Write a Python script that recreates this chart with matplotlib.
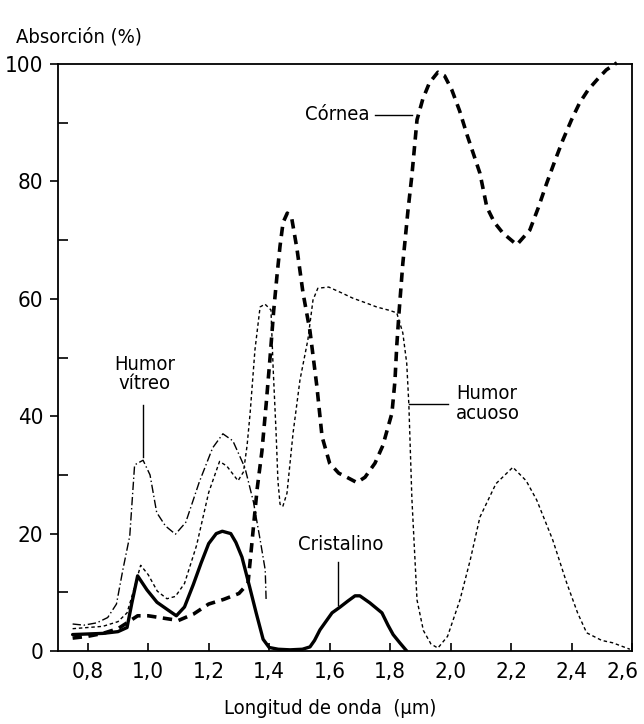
import matplotlib
matplotlib.use("Agg")
import matplotlib.pyplot as plt
from matplotlib import font_manager
from matplotlib.ticker import MultipleLocator
from matplotlib.transforms import ScaledTranslation

# busca una fuente estrecha (la original es tipo Futura condensada)
def es_estrecha(f):
    if "Narrow" in f.name or "Condensed" in f.name:
        return True
    st = f.stretch
    if isinstance(st, str):
        return "condensed" in st
    return st < 500

estrechas = [f for f in font_manager.fontManager.ttflist
             if es_estrecha(f) and f.weight in ("normal", "regular", 400) and f.style == "normal"]
if estrechas:
    fp = font_manager.FontProperties(fname=estrechas[0].fname)
    t_ticks, t_text = 16, 14.5
else:
    fp = font_manager.FontProperties(family="DejaVu Sans")
    t_ticks, t_text = 13.5, 12.5

# datos
cornea_x = [0.75, 0.80, 0.85, 0.90, 0.93, 0.965, 1.00, 1.05, 1.10, 1.15, 1.20, 1.25, 1.30,
            1.33, 1.345, 1.36, 1.376, 1.39, 1.403, 1.415, 1.426, 1.436, 1.446, 1.46, 1.475,
            1.492, 1.512, 1.535, 1.558, 1.575, 1.60, 1.63, 1.657, 1.69, 1.717, 1.75, 1.776,
            1.795, 1.806, 1.816, 1.822, 1.83, 1.842, 1.859, 1.872, 1.889, 1.908, 1.93, 1.958,
            1.98, 2.004, 2.03, 2.054, 2.097, 2.12, 2.145, 2.173, 2.219, 2.262, 2.29, 2.318,
            2.345, 2.371, 2.40, 2.427, 2.455, 2.484, 2.515, 2.55]
cornea_y = [2.2, 2.5, 3.0, 3.8, 4.8, 6.0, 6.0, 5.6, 5.2, 6.3, 8.0, 8.8, 9.8,
            11.5, 19.5, 27.5, 34, 42, 50, 58, 64, 69, 73, 74.6, 73.6,
            68.5, 61, 54.5, 45, 36.5, 32, 30.3, 29.6, 28.7, 29.6, 32, 35,
            38.5, 40.5, 46, 52, 58, 66, 75, 81, 90.5, 94, 96.8, 98.6,
            98, 95.6, 92, 88, 81.4, 75.6, 73, 71.2, 69.2, 71.7, 75.5, 79.7,
            83.5, 87, 90.5, 93.4, 95.6, 97.3, 99, 100.2]

acuoso_x = [0.75, 0.80, 0.85, 0.90, 0.93, 0.95, 0.975, 1.0, 1.03, 1.062, 1.09, 1.12, 1.16,
            1.20, 1.236, 1.26, 1.297, 1.315, 1.327, 1.337, 1.353, 1.37, 1.386, 1.406, 1.413,
            1.423, 1.429, 1.436, 1.445, 1.459, 1.479, 1.502, 1.528, 1.545, 1.561, 1.597, 1.64,
            1.677, 1.72, 1.756, 1.80, 1.822, 1.842, 1.855, 1.862, 1.872, 1.889, 1.91, 1.935,
            1.958, 1.99, 2.031, 2.065, 2.097, 2.15, 2.206, 2.25, 2.285, 2.338, 2.384, 2.42,
            2.45, 2.50, 2.536, 2.593]
acuoso_y = [3.8, 4.0, 4.2, 5.0, 6.5, 10, 14.6, 13, 10.2, 8.9, 9.3, 11.5, 18,
            27, 32.3, 31.5, 29, 30.5, 35, 40.5, 51.3, 58.6, 59.1, 58.1, 48.4,
            37.1, 29, 25, 24.6, 26.9, 37.1, 46.2, 53, 59.8, 61.8, 62, 61,
            60.1, 59.3, 58.6, 58, 57.6, 54.2, 49, 42, 26, 8.7, 3.5, 1.2,
            0.5, 2.5, 8.7, 15.5, 22.8, 28.5, 31.3, 29, 25.7, 18.9, 11.6, 6.5,
            3.1, 1.8, 1.4, 0.3]

vitreo_x = [0.75, 0.787, 0.83, 0.866, 0.895, 0.916, 0.939, 0.955, 0.983, 1.006, 1.028,
            1.057, 1.09, 1.124, 1.169, 1.213, 1.247, 1.28, 1.32, 1.348, 1.37, 1.387, 1.39]
vitreo_y = [4.6, 4.4, 4.8, 5.7, 8, 13.8, 19.6, 31.7, 32.5, 30, 23.6,
            21.3, 19.9, 21.9, 28.8, 34.6, 37, 35.8, 31.2, 25.4, 19, 13.8, 8.6]

cristalino_x = [0.75, 0.80, 0.85, 0.90, 0.93, 0.946, 0.965, 0.996, 1.029, 1.065, 1.093,
                1.12, 1.149, 1.175, 1.20, 1.225, 1.245, 1.273, 1.29, 1.31, 1.335, 1.357,
                1.38, 1.40, 1.43, 1.469, 1.51, 1.535, 1.55, 1.568, 1.608, 1.635, 1.66,
                1.684, 1.70, 1.733, 1.773, 1.793, 1.81, 1.832, 1.855]
cristalino_y = [2.8, 2.9, 3.0, 3.3, 4.0, 8.2, 12.8, 10.4, 8.3, 7.0, 6.0,
                7.5, 11.3, 15.0, 18.3, 20.0, 20.4, 20.0, 18.5, 16, 11, 6.5,
                2, 0.6, 0.3, 0.2, 0.3, 0.7, 1.8, 3.6, 6.5, 7.5, 8.5,
                9.4, 9.4, 8.2, 6.5, 4.4, 2.8, 1.4, 0.0]

x_ticks = [0.8, 1.0, 1.2, 1.4, 1.6, 1.8, 2.0, 2.2, 2.4, 2.6]
x_labels = ["0,8", "1,0", "1,2", "1,4", "1,6", "1,8", "2,0", "2,2", "2,4", "2,6"]
y_ticks = [0, 20, 40, 60, 80, 100]

fig = plt.figure(figsize=(6.44, 7.24), dpi=100)
ax = fig.add_axes([57.5 / 644, 73 / 724, 574.5 / 644, 587 / 724])

ax.plot(cornea_x, cornea_y, color="black", lw=2.6, dashes=(2.6, 1.8), clip_on=False)
ax.plot(acuoso_x, acuoso_y, color="black", lw=1.0, dashes=(2.5, 2.0))
ax.plot(vitreo_x, vitreo_y, color="black", lw=1.0, dashes=(6, 2, 1, 2))
ax.plot(cristalino_x, cristalino_y, color="black", lw=2.4, solid_capstyle="round")

ax.set_xlim(0.7, 2.6)
ax.set_ylim(0, 100)
ax.set_xticks(x_ticks)
ax.set_xticklabels(x_labels)
ax.set_yticks(y_ticks)
ax.yaxis.set_minor_locator(MultipleLocator(10))
ax.tick_params(axis="x", direction="in", length=6, width=1.2, pad=8)
ax.tick_params(axis="y", which="major", direction="out", length=6, width=1.2, pad=4)
ax.tick_params(axis="y", which="minor", direction="in", length=7, width=1.2)
for s in ax.spines.values():
    s.set_linewidth(1.3)
for lbl in ax.get_xticklabels() + ax.get_yticklabels():
    lbl.set_fontproperties(fp)
    lbl.set_fontsize(t_ticks)
# el último rótulo (2,6) va algo desplazado a la izquierda para que quepa
ult = ax.get_xticklabels()[-1]
ult.set_transform(ult.get_transform() + ScaledTranslation(-9 / 100, 0, fig.dpi_scale_trans))

# etiquetas de las curvas
ax.text(0.989, 47.2, "Humor\nvítreo", ha="center", va="center", fontproperties=fp,
        fontsize=t_text, linespacing=1.05)
ax.plot([0.983, 0.983], [41.9, 33.0], color="black", lw=1.0)

ax.text(1.733, 91.4, "Córnea", ha="right", va="center", fontproperties=fp, fontsize=t_text)
ax.plot([1.75, 1.872], [91.3, 91.3], color="black", lw=1.0)

ax.text(2.018, 42.1, "Humor\nacuoso", ha="left", va="center", fontproperties=fp,
        fontsize=t_text, linespacing=1.05)
ax.plot([1.862, 1.991], [42.1, 42.1], color="black", lw=1.0)

ax.text(1.638, 18.1, "Cristalino", ha="center", va="center", fontproperties=fp, fontsize=t_text)
ax.plot([1.628, 1.628], [15.2, 7.8], color="black", lw=1.0)

fig.text(16 / 644, 1 - 37 / 724, "Absorción (%)", ha="left", va="center",
         fontproperties=fp, fontsize=t_text)
fig.text(330 / 644, 1 - 708 / 724, "Longitud de onda  (μm)", ha="center", va="center",
         fontproperties=fp, fontsize=t_text)

fig.savefig("out.png", dpi=100)
